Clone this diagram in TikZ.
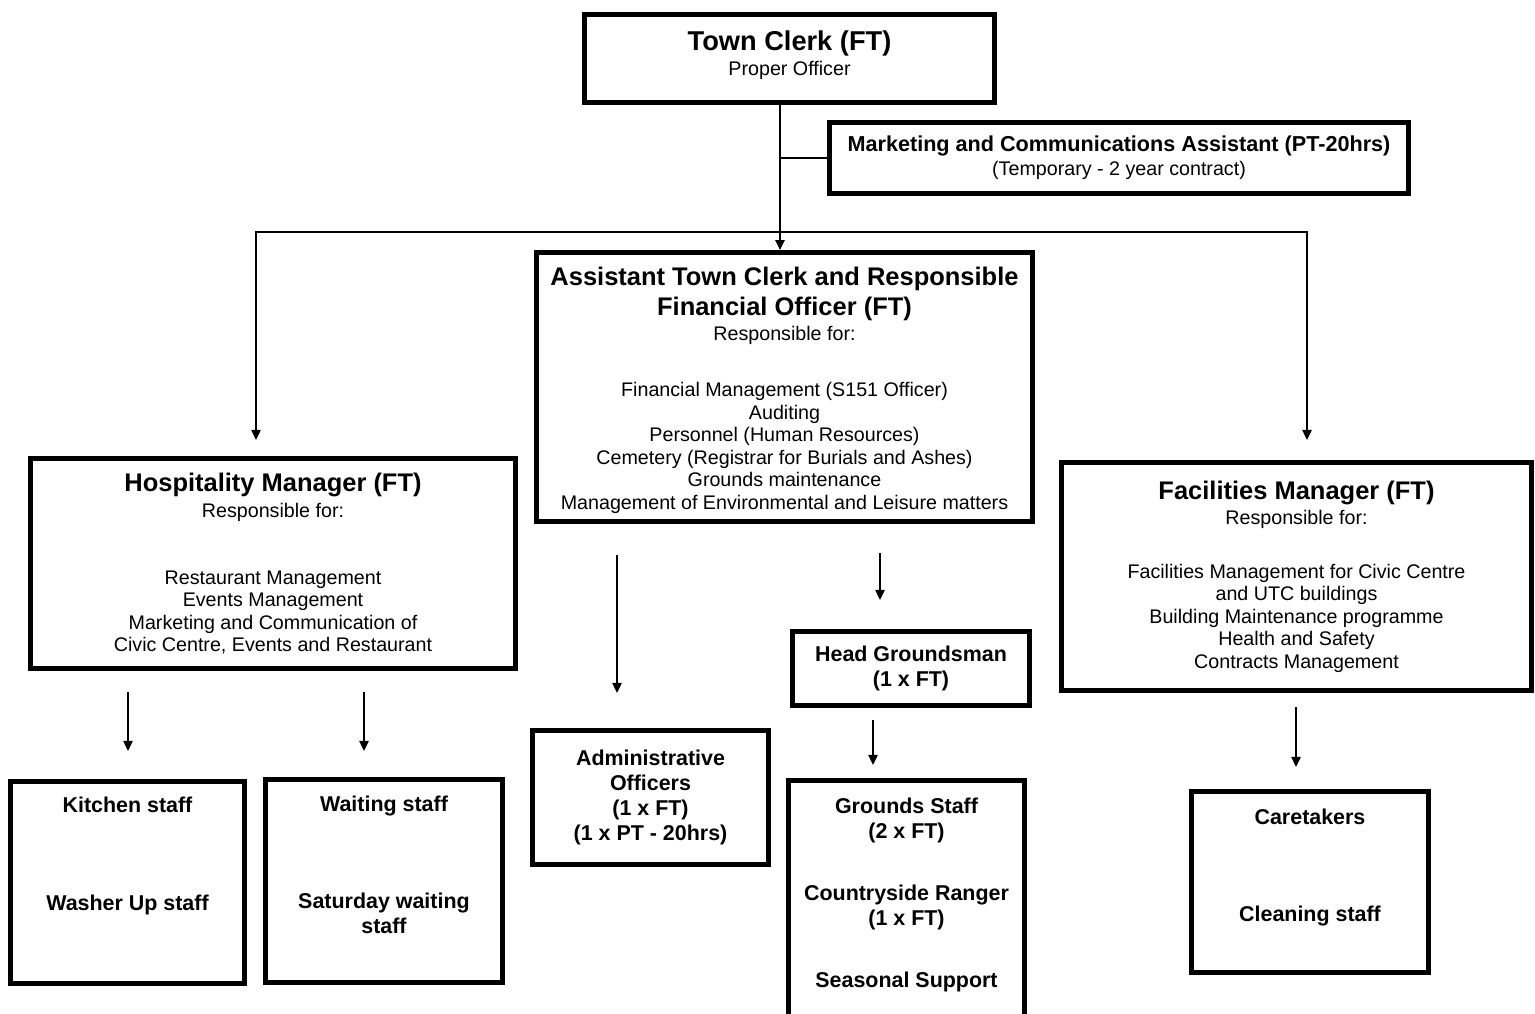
\documentclass[tikz,border=0pt]{standalone}
\usepackage{fontspec}
\setmainfont{Liberation Sans}
\usetikzlibrary{arrows.meta}
\colorlet{boxc}{black}
\colorlet{linec}{black}

\tikzset{
  post/.style={draw=boxc, line width=2.8pt, shape=rectangle, align=center, inner sep=0pt,
    font=\fontsize{11.2pt}{12.8pt}\selectfont},
  staff/.style={post, font=\fontsize{12.2pt}{14.2pt}\selectfont\bfseries},
  link/.style={draw=linec, line width=1.1pt},
  down/.style={link, -{Triangle[length=5.7pt,width=5.2pt]}},
}

\begin{document}
\begin{tikzpicture}[x=0.02cm,y=-0.02cm]
\useasboundingbox (0,0) rectangle (1535,1014);

\node[post, minimum width=8.2cm, minimum height=1.76cm] (clerk) at (789.5,58.5)
{{\fontsize{15.5pt}{17pt}\selectfont\bfseries Town Clerk (FT)}\\[1.4pt] Proper Officer\\[-7.1pt]\mbox{}};
\node[post, minimum width=11.58cm, minimum height=1.42cm] (mktg) at (1119,158)
{{\fontsize{12.3pt}{14pt}\selectfont\bfseries Marketing and Communications Assistant (PT-20hrs)}\\[0.8pt]
(Temporary - 2 year contract)};

\node[post, minimum width=9.92cm, minimum height=5.38cm] (atc) at (784.5,387)
{{\fontsize{14.5pt}{17pt}\selectfont\bfseries\rule{0pt}{14pt}Assistant Town Clerk and Responsible}\\[2.4pt]
{\fontsize{14.5pt}{17pt}\selectfont\bfseries Financial Officer (FT)}\\[1.9pt]
Responsible for:\\[18.9pt]
Financial Management (S151 Officer)\\
Auditing\\
Personnel (Human Resources)\\
Cemetery (Registrar for Burials and Ashes)\\
Grounds maintenance\\
Management of Environmental and Leisure matters};

\node[post, minimum width=9.7cm, minimum height=4.2cm] (hosp) at (273,563.5)
{{\fontsize{14.5pt}{17pt}\selectfont\bfseries Hospitality Manager (FT)}\\[1.9pt]
Responsible for:\\[25.2pt]
Restaurant Management\\
Events Management\\
Marketing and Communication of\\
Civic Centre, Events and Restaurant};

\node[post, minimum width=9.4cm, minimum height=4.56cm] (fac) at (1296.5,576.5)
{{\fontsize{14.5pt}{17pt}\selectfont\bfseries Facilities Manager (FT)}\\[1.4pt]
Responsible for:\\[17.8pt]
Facilities Management for Civic Centre\\
and UTC buildings\\
Building Maintenance programme\\
Health and Safety\\
Contracts Management};

\node[staff, minimum width=4.68cm, minimum height=4.04cm] (kitchen) at (127.5,882.5)
{Kitchen staff\\[41.4pt] Washer Up staff\\[18.3pt]\mbox{}};
\node[staff, minimum width=4.74cm, minimum height=4.06cm] (waiting) at (384,881)
{Waiting staff\\[41.4pt] Saturday waiting\\ staff\\[4.5pt]\mbox{}};
\node[staff, minimum width=4.72cm, minimum height=2.68cm] (admin) at (650.5,797.5)
{Administrative\\ Officers\\ (1 x FT)\\ (1 x PT - 20hrs)};
\node[staff, minimum width=4.74cm, minimum height=1.48cm] (headg) at (911,668.5)
{Head Groundsman\\ (1 x FT)};
\node[staff, minimum width=4.72cm, minimum height=4.86cm] (grounds) at (906.5,902)
{Grounds Staff\\ (2 x FT)\\[21pt] Countryside Ranger\\ (1 x FT)\\[21pt] Seasonal Support\\[-3.7pt]\mbox{}};
\node[staff, minimum width=4.74cm, minimum height=3.62cm] (care) at (1310,882)
{Caretakers\\[40.8pt] Cleaning staff\\[5pt]\mbox{}};

\coordinate (trunk) at (780,232);
\coordinate (hospin) at (256,440);
\coordinate (facin) at (1307,440);
\draw[down] (clerk.south -| trunk) -- (atc.north -| trunk);
\draw[link, line width=0.7pt] (mktg.west) -- (mktg.west -| trunk);
\draw[down] (trunk) -| (hospin);
\draw[down] (trunk) -| (facin);

\coordinate (kitchenout) at (128,692);
\coordinate (kitchenin) at (128,751);
\coordinate (waitingout) at (364,692);
\coordinate (waitingin) at (364,751);
\coordinate (adminout) at (617,555);
\coordinate (adminin) at (617,693);
\coordinate (headgout) at (880,553);
\coordinate (headgin) at (880,600);
\coordinate (groundsout) at (873,720);
\coordinate (groundsin) at (873,765);
\coordinate (careout) at (1296,707);
\coordinate (carein) at (1296,767);
\draw[down] (kitchenout) -- (kitchenin);
\draw[down] (waitingout) -- (waitingin);
\draw[down] (adminout) -- (adminin);
\draw[down] (headgout) -- (headgin);
\draw[down] (groundsout) -- (groundsin);
\draw[down] (careout) -- (carein);

\end{tikzpicture}
\end{document}
